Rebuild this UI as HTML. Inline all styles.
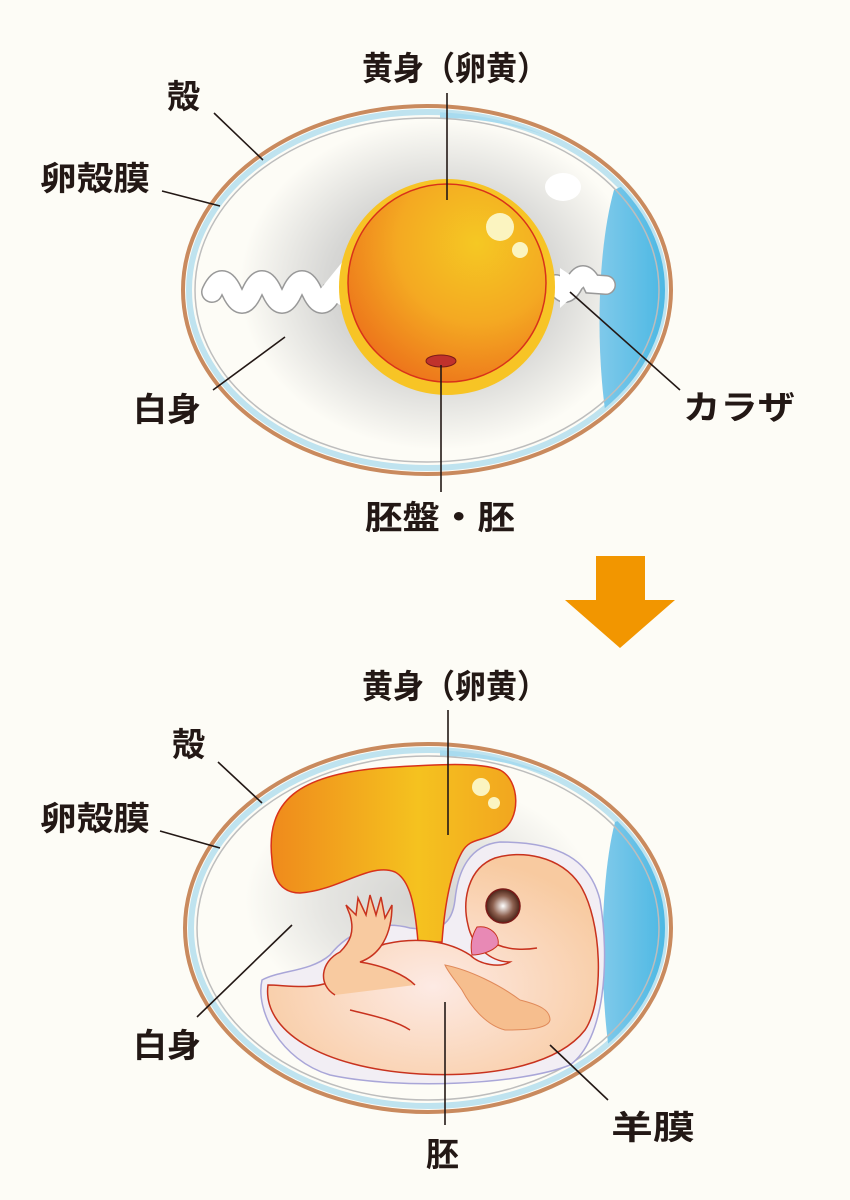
<!DOCTYPE html>
<html><head><meta charset="utf-8"><style>
html,body{margin:0;padding:0;background:#fdfcf6}
svg{display:block}
text{font-family:"Liberation Sans","Noto Sans CJK JP",sans-serif;font-weight:bold;fill:#231815;font-size:33px}
</style></head><body>
<svg width="850" height="1200" viewBox="0 0 850 1200" xmlns="http://www.w3.org/2000/svg">
<defs>
<radialGradient id="alb" cx="0.5" cy="0.5" r="0.5">
<stop offset="0" stop-color="#b9b9b9"/><stop offset="0.55" stop-color="#d6d6d4"/><stop offset="1" stop-color="#fdfcf6"/></radialGradient>
<radialGradient id="yolk" cx="0.65" cy="0.3" r="0.8">
<stop offset="0" stop-color="#f5c823"/><stop offset="0.5" stop-color="#f4a922"/><stop offset="1" stop-color="#ec6e1a"/></radialGradient>
<linearGradient id="air" x1="0" x2="1"><stop offset="0" stop-color="#7fc9ea"/><stop offset="1" stop-color="#30afe0"/></linearGradient>
<linearGradient id="ys" x1="0" x2="1"><stop offset="0" stop-color="#ef8a1c"/><stop offset="0.6" stop-color="#f5c21f"/><stop offset="1" stop-color="#f2a61f"/></linearGradient>
<radialGradient id="body" cx="0.5" cy="0.6" r="0.6"><stop offset="0" stop-color="#fdeae4"/><stop offset="1" stop-color="#f8caa0"/></radialGradient>
<radialGradient id="eye" cx="0.5" cy="0.5" r="0.5"><stop offset="0" stop-color="#fff"/><stop offset="0.6" stop-color="#8d6150"/><stop offset="1" stop-color="#4a2418"/></radialGradient>
<clipPath id="c1"><ellipse cx="427" cy="290" rx="238" ry="178"/></clipPath>
<clipPath id="c2"><ellipse cx="428" cy="928" rx="237" ry="178"/></clipPath>
</defs>

<!-- EGG 1 -->
<ellipse cx="427" cy="290" rx="244" ry="184" fill="#fdfcf6" stroke="#c98a5e" stroke-width="4"/>
<ellipse cx="427" cy="290" rx="238" ry="178" fill="#fdfcf6" stroke="#bfe3ef" stroke-width="6"/>
<g clip-path="url(#c1)">
<ellipse cx="440" cy="285" rx="200" ry="165" fill="url(#alb)"/>
<path d="M440,112 C520,112 600,140 660,200" fill="none" stroke="#a8dbef" stroke-width="12"/>
<path d="M614,190 C597,250 594,360 610,440 L700,440 L700,150 Z" fill="url(#air)"/>
<ellipse cx="563" cy="187" rx="18" ry="14" fill="#fff"/>
</g>
<ellipse cx="427" cy="290" rx="232" ry="172" fill="none" stroke="#bdbdbd" stroke-width="1.5"/>
<!-- chalaza -->
<g fill="none" stroke-linecap="round">
<path d="M212,292 q10,-22 20,0 t20,0 t20,0 t20,0 t20,0 t20,0 L350,280" stroke="#999" stroke-width="22"/>
<path d="M212,292 q10,-22 20,0 t20,0 t20,0 t20,0 t20,0 t20,0 L350,280" stroke="#fff" stroke-width="19"/>
<path d="M556,284 q9,18 18,0 t18,0 L606,285" stroke="#999" stroke-width="20"/>
<path d="M556,284 q9,18 18,0 t18,0 L606,285" stroke="#fff" stroke-width="17"/>
</g>
<path d="M318,292 L352,250 L352,312 Z" fill="#fff"/>
<path d="M560,268 L585,285 L560,308 Z" fill="#fff"/>
<circle cx="447" cy="287" r="108" fill="#f7c425"/>
<circle cx="447" cy="283" r="99" fill="url(#yolk)" stroke="#d8321a" stroke-width="1.5"/>
<circle cx="500" cy="227" r="14" fill="#fbf4c0"/>
<circle cx="520" cy="250" r="8" fill="#fbf4c0"/>
<ellipse cx="441" cy="361" rx="15" ry="6" fill="#c0322c" stroke="#7a1a18" stroke-width="1"/>

<!-- lines top -->
<g stroke="#231815" stroke-width="1.6">
<line x1="447" y1="93" x2="447" y2="200"/>
<line x1="214" y1="113" x2="263" y2="160"/>
<line x1="162" y1="191" x2="220" y2="206"/>
<line x1="213" y1="390" x2="285" y2="337"/>
<line x1="570" y1="292" x2="680" y2="390"/>
<line x1="441" y1="365" x2="441" y2="492"/>
</g>
<text x="362" y="80" textLength="186" lengthAdjust="spacingAndGlyphs">黄身（卵黄）</text>
<text x="167" y="108">殻</text>
<text x="40" y="190" textLength="110" lengthAdjust="spacingAndGlyphs">卵殻膜</text>
<text x="133" y="421" textLength="68" lengthAdjust="spacingAndGlyphs">白身</text>
<text x="683" y="419" textLength="112" lengthAdjust="spacingAndGlyphs">カラザ</text>
<text x="365" y="529" textLength="150" lengthAdjust="spacingAndGlyphs">胚盤・胚</text>

<!-- arrow -->
<path d="M596,556 H645 V600 H675 L620,648 L565,600 H596 Z" fill="#f29600"/>

<!-- EGG 2 -->
<ellipse cx="428" cy="928" rx="243" ry="184" fill="#fdfcf6" stroke="#c98a5e" stroke-width="4"/>
<ellipse cx="428" cy="928" rx="237" ry="178" fill="#fdfcf6" stroke="#bfe3ef" stroke-width="6"/>
<g clip-path="url(#c2)">
<ellipse cx="420" cy="900" rx="175" ry="120" fill="url(#alb)" opacity="0.6"/>
<path d="M440,750 C520,750 600,780 660,840" fill="none" stroke="#a8dbef" stroke-width="12"/>
<path d="M615,822 C600,880 598,990 612,1070 L700,1070 L700,790 Z" fill="url(#air)"/>
</g>
<ellipse cx="428" cy="928" rx="231" ry="172" fill="none" stroke="#bdbdbd" stroke-width="1.5"/>
<!-- amnion -->
<path d="M262,980 C255,1010 280,1060 330,1075 C400,1090 520,1085 570,1065 C605,1040 610,960 600,900 C590,860 560,842 500,842 C470,845 458,870 455,900 C452,925 440,932 410,928 C380,920 350,930 330,955 C310,972 280,970 262,980 Z" fill="#f2eef4" stroke="#a9a6d8" stroke-width="1.5"/>
<!-- yolk sac -->
<path d="M272,860 C265,800 300,775 380,768 C440,764 480,762 500,770 C520,780 522,820 500,832 C480,842 470,838 462,852 C452,870 445,900 442,942 L418,942 C415,905 410,880 395,872 C370,862 340,890 300,893 C282,893 273,880 272,860 Z" fill="url(#ys)" stroke="#d8321a" stroke-width="1.5"/>
<circle cx="481" cy="787" r="9" fill="#fbf4c0"/>
<circle cx="494" cy="803" r="6" fill="#fbf4c0"/>
<!-- body -->
<path d="M268,985 C262,1030 320,1068 420,1074 C500,1078 560,1062 585,1030 C605,1000 602,920 580,885 C560,855 520,850 495,858 C468,868 462,900 468,925 C472,945 490,962 510,962 C500,968 480,965 470,955 C450,942 420,936 385,944 C360,952 345,970 330,982 C310,990 285,985 268,985 Z" fill="url(#body)" stroke="#c8321e" stroke-width="1.5"/>
<!-- arm -->
<path d="M335,995 C318,985 320,962 340,952 C350,942 355,932 350,915 L346,905 L356,915 L358,898 L366,915 L370,895 L376,915 L381,897 L385,918 L392,905 C392,935 380,955 360,962 C385,966 405,975 415,985" fill="#f8caa0" stroke="#c8321e" stroke-width="1.5"/>
<path d="M350,1010 C370,1015 395,1020 410,1030" fill="none" stroke="#c8321e" stroke-width="1.5"/>
<!-- wing -->
<path d="M445,965 C470,970 500,985 520,1000 C540,1005 550,1010 550,1020 C548,1030 520,1030 505,1030 C485,1025 470,1005 462,990 C455,980 448,972 445,965 Z" fill="#f6be8e" stroke="#e08a5a" stroke-width="1"/>
<circle cx="503" cy="906" r="17" fill="url(#eye)" stroke="#7a1a18" stroke-width="1.5"/>
<path d="M477,927 C490,925 500,935 498,945 C492,952 480,955 472,955 C470,945 472,935 477,927 Z" fill="#e889b5" stroke="#c8321e" stroke-width="1"/>
<path d="M498,945 C510,950 525,950 537,948" fill="none" stroke="#c8321e" stroke-width="1.5"/>

<!-- lines bottom -->
<g stroke="#231815" stroke-width="1.6">
<line x1="448" y1="710" x2="448" y2="835"/>
<line x1="218" y1="762" x2="262" y2="803"/>
<line x1="160" y1="831" x2="220" y2="848"/>
<line x1="197" y1="1017" x2="292" y2="925"/>
<line x1="550" y1="1045" x2="608" y2="1100"/>
<line x1="445" y1="1002" x2="445" y2="1125"/>
</g>
<text x="362" y="698" textLength="186" lengthAdjust="spacingAndGlyphs">黄身（卵黄）</text>
<text x="172" y="756">殻</text>
<text x="40" y="830" textLength="110" lengthAdjust="spacingAndGlyphs">卵殻膜</text>
<text x="133" y="1057" textLength="68" lengthAdjust="spacingAndGlyphs">白身</text>
<text x="611" y="1139" textLength="84" lengthAdjust="spacingAndGlyphs">羊膜</text>
<text x="426" y="1166">胚</text>
</svg>
</body></html>
